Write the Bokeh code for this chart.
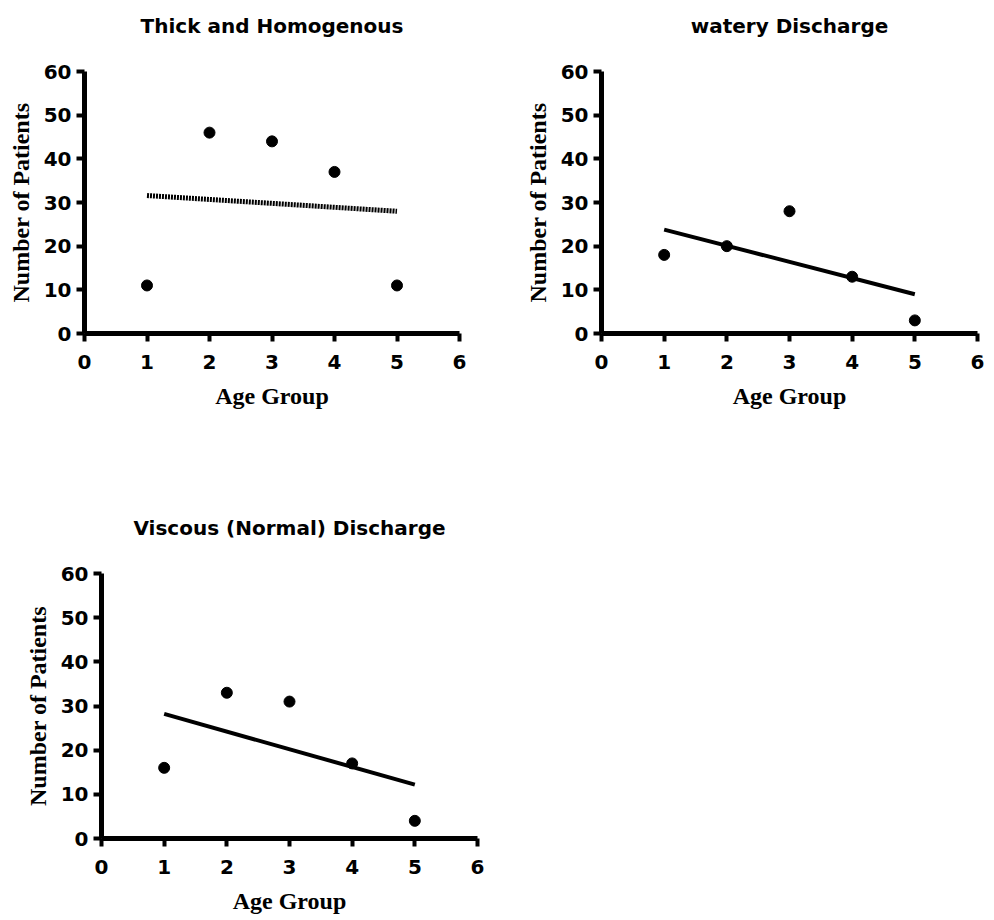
import numpy as np
from bokeh.plotting import figure
from bokeh.layouts import column, row
from bokeh.models import FixedTicker, Range1d
from bokeh.embed import file_html
from bokeh.resources import INLINE

# ---- data ----
age_group = [1, 2, 3, 4, 5]
thick_homogenous = [11, 46, 44, 37, 11]
watery_discharge = [18, 20, 28, 13, 3]
viscous_discharge = [16, 33, 31, 17, 4]

titles = ["Thick and Homogenous", "watery Discharge", "Viscous (Normal) Discharge"]
x_ticks = [0, 1, 2, 3, 4, 5, 6]
y_ticks = [0, 10, 20, 30, 40, 50, 60]
x_label = "Age Group"
y_label = "Number of Patients"


def make_plot(title, ys, width, height, left, right, top, bottom, dash, title_standoff):
    p = figure(width=width, height=height, output_backend="svg", toolbar_location=None,
               x_range=Range1d(0, 6), y_range=Range1d(0, 60),
               min_border_left=left, min_border_right=right,
               min_border_top=top, min_border_bottom=bottom,
               background_fill_color="white", border_fill_color="white")
    p.outline_line_color = None
    p.xgrid.visible = False
    p.ygrid.visible = False

    # blank second line keeps the title well above the frame, as in the reference
    p.title.text = title + "\n "
    p.title.align = "center"
    p.title.vertical_align = "bottom"
    p.title.text_font = "DejaVu Sans"
    p.title.text_font_style = "bold"
    p.title.text_font_size = "20px"
    p.title.text_color = "black"
    p.title.standoff = title_standoff

    for ax, ticks in ((p.xaxis, x_ticks), (p.yaxis, y_ticks)):
        ax.ticker = FixedTicker(ticks=ticks)
        ax.minor_tick_line_color = None
        ax.axis_line_width = 5
        ax.axis_line_color = "black"
        ax.major_tick_line_width = 4
        ax.major_tick_line_color = "black"
        ax.major_tick_out = 8
        ax.major_tick_in = 0
        ax.major_label_text_font = "DejaVu Sans"
        ax.major_label_text_font_style = "bold"
        ax.major_label_text_font_size = "20px"
        ax.major_label_text_color = "black"
        ax.axis_label_text_font = "Liberation Serif"
        ax.axis_label_text_font_style = "bold"
        ax.axis_label_text_font_size = "24px"
        ax.axis_label_text_color = "black"

    p.xaxis.axis_label = x_label
    p.yaxis.axis_label = y_label
    p.xaxis.major_label_standoff = 13
    p.yaxis.major_label_standoff = 5
    p.xaxis.axis_label_standoff = 11
    p.yaxis.axis_label_standoff = 7

    xs = np.array(age_group, dtype=float)
    slope, intercept = np.polyfit(xs, np.array(ys, dtype=float), 1)
    fx = [xs.min(), xs.max()]
    fy = [slope * v + intercept for v in fx]
    p.line(fx, fy, line_color="black", line_width=5 if dash else 4,
           line_dash=dash if dash else "solid")
    p.scatter(age_group, ys, size=11, marker="circle", fill_color="black", line_color="black")
    return p


p1 = make_plot(titles[0], thick_homogenous, 500, 440, 84, 41, 68, 107, "2 1", 20)
p2 = make_plot(titles[1], watery_discharge, 494, 440, 101, 17, 71, 105, None, 20)
p3 = make_plot(titles[2], viscous_discharge, 500, 480, 101, 23, 133, 82, None, 20)

layout = column(row(p1, p2), p3)

open("out.html", "w").write(file_html(layout, INLINE))
